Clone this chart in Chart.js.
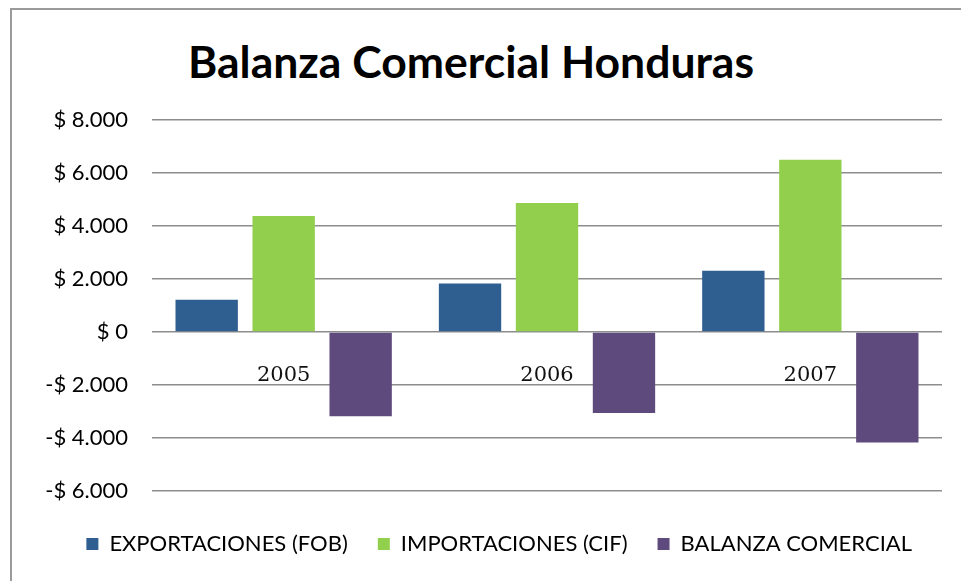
<!DOCTYPE html>
<html>
<head>
<meta charset="utf-8">
<script src="https://cdn.jsdelivr.net/npm/chart.js@4/dist/chart.umd.min.js"></script>
<style>
    html, body { margin: 0; padding: 0; background: #fff; overflow: hidden; }
    #marco { position: absolute; left: 0; top: 0; width: 961px; height: 581px; }
    #borde { position: absolute; left: 10px; top: 8px; width: 1200px; height: 900px;
             border-left: 2px solid #9a9a9a; border-top: 2px solid #9a9a9a; }
    #titulo { position: absolute; left: 0; top: 36px; width: 942px; text-align: center;
              font: bold 44.5px Lato, sans-serif; color: #000; line-height: 50px; }
    canvas { position: absolute; left: 0; top: 0; }
</style>
</head>
<body>
<div id="marco">
    <div id="borde"></div>
    <div id="titulo">Balanza Comercial Honduras</div>
    <canvas id="grafico" width="961" height="581"></canvas>
</div>
<script>
// datos (millones US$)
const anios = ['2005', '2006', '2007'];
const exportaciones = [1220, 1830, 2310];
const importaciones = [4380, 4870, 6500];
const balanza = [-3180, -3060, -4170];
const ticksY = [-6000, -4000, -2000, 0, 2000, 4000, 6000, 8000];

function formatoDolar(v) {
    const s = Math.abs(v).toLocaleString('de-DE');
    return (v < 0 ? '-' : '') + '$ ' + s;
}

const ctx = document.getElementById('grafico').getContext('2d');
new Chart(ctx, {
    type: 'bar',
    data: {
        labels: anios,
        datasets: [
            { label: 'EXPORTACIONES (FOB)', data: exportaciones, backgroundColor: '#2F5E91' },
            { label: 'IMPORTACIONES (CIF)', data: importaciones, backgroundColor: '#92CF4C' },
            { label: 'BALANZA COMERCIAL', data: balanza, backgroundColor: '#5F4A7D' }
        ]
    },
    options: {
        responsive: false,
        animation: false,
        categoryPercentage: 0.877,
        barPercentage: 0.81,
        layout: { padding: { left: 0, right: 19, top: 120, bottom: 16 } },
        scales: {
            x: {
                position: { y: 0 },
                grid: { display: false, drawTicks: false },
                border: { display: false },
                ticks: { padding: 31, color: '#111', font: { family: 'DejaVu Serif', size: 21 } }
            },
            hueco: {
                type: 'category',
                labels: anios,
                position: 'bottom',
                grid: { display: false, drawTicks: false },
                border: { display: false },
                ticks: { display: false },
                afterFit: s => { s.height = 12; }
            },
            y: {
                min: -6000, max: 8000,
                afterBuildTicks: s => { s.ticks = ticksY.map(v => ({ value: v })); },
                afterFit: s => { s.width = 152; },
                grid: { color: '#8d8d8d', lineWidth: 1.6, drawTicks: false },
                border: { display: false },
                ticks: { padding: 24, color: '#000', font: { family: 'Lato', size: 22 }, callback: v => formatoDolar(v) }
            }
        },
        plugins: {
            title: { display: false },
            tooltip: { enabled: false },
            legend: {
                position: 'bottom',
                align: 'end',
                labels: { boxWidth: 12, boxHeight: 12, padding: 30, color: '#000', font: { family: 'Lato', size: 22 } }
            }
        }
    }
});
</script>
</body>
</html>
